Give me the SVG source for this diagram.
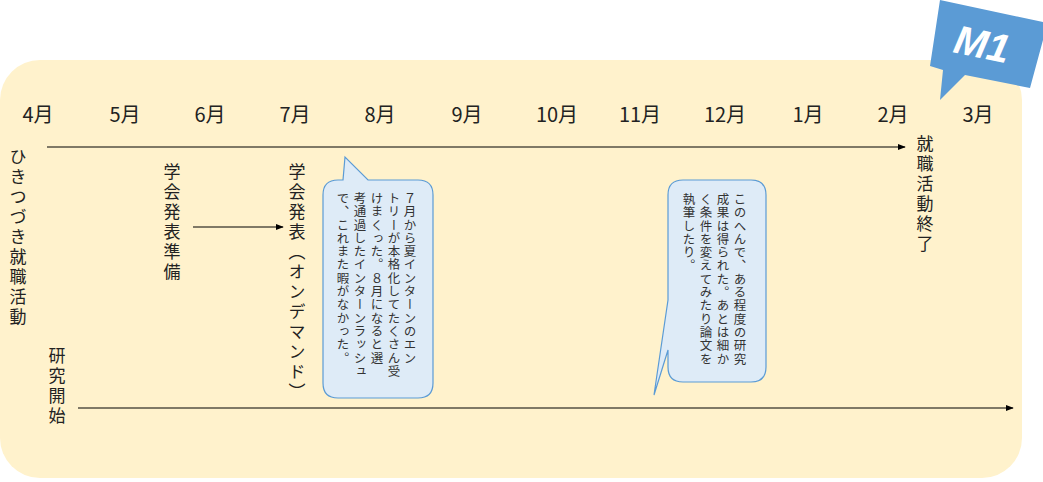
<svg xmlns="http://www.w3.org/2000/svg" width="1043" height="482" viewBox="0 0 1043 482">
<style>
.m{font-family:"Noto Sans CJK JP","Liberation Sans",sans-serif;font-size:20px;fill:#222;text-anchor:middle}
.v{font-family:"Noto Sans CJK JP",sans-serif;font-size:17px;letter-spacing:3px;fill:#222;writing-mode:vertical-rl}
.s{font-family:"Noto Sans CJK JP",sans-serif;font-size:12.5px;letter-spacing:0.8px;fill:#333;writing-mode:vertical-rl}
.b{fill:#DEEBF7;stroke:#5B9BD5;stroke-width:1.2}
.ln{stroke:#000;stroke-width:1;fill:none;marker-end:url(#a)}
</style>
<defs><marker id="a" viewBox="0 0 10 10" refX="9" refY="5" markerWidth="8" markerHeight="8" orient="auto"><path d="M0,1L10,5L0,9z" fill="#000"/></marker></defs>
<rect x="0" y="60" width="1022" height="418" rx="40" fill="#FFF2CC"/>
<g id="badge"><polygon points="940,0 1043,22 1043,40 1030,88 965,75 940,100 943,70 930,66" fill="#5B9BD5"/>
<text x="982" y="58" transform="rotate(12 982 45)" font-family="Liberation Sans,sans-serif" font-size="40" font-style="italic" font-weight="bold" fill="#fff" text-anchor="middle">M1</text></g>
<g id="months">
<text class="m" x="38" y="122">4月</text><text class="m" x="125" y="122">5月</text><text class="m" x="210" y="122">6月</text><text class="m" x="295" y="122">7月</text><text class="m" x="380" y="122">8月</text><text class="m" x="467" y="122">9月</text><text class="m" x="557" y="122">10月</text><text class="m" x="640" y="122">11月</text><text class="m" x="725" y="122">12月</text><text class="m" x="808" y="122">1月</text><text class="m" x="893" y="122">2月</text><text class="m" x="978" y="122">3月</text>
</g>
<g id="connectors">
<line class="ln" x1="47" y1="147" x2="905" y2="147"/>
<line class="ln" x1="78" y1="408" x2="1013" y2="408"/>
<line class="ln" x1="193" y1="227" x2="283" y2="227"/>
</g>
<g id="n1"><text class="v" x="18" y="148">ひきつづき就職活動</text></g>
<g id="n2"><text class="v" x="57" y="347">研究開始</text></g>
<g id="n3"><text class="v" x="172" y="163">学会発表準備</text></g>
<g id="n4"><text class="v" x="297" y="163">学会発表（オンデマンド）</text></g>
<g id="n5"><text class="v" x="925" y="135">就職活動終了</text></g>
<g id="bubble1"><path class="b" d="M343,180 L345,157 L368,180 L418,180 Q433,180 433,195 L433,383 Q433,398 418,398 L338,398 Q323,398 323,383 L323,195 Q323,180 338,180 Z"/>
<text class="s" x="410" y="192">７月から夏インターンのエン</text>
<text class="s" x="394" y="192">トリーが本格化してたくさん受</text>
<text class="s" x="377" y="192">けまくった。８月になると選</text>
<text class="s" x="360" y="192">考通過したインターンラッシュ</text>
<text class="s" x="343" y="192">で、これまた暇がなかった。</text></g>
<g id="bubble2"><path class="b" d="M683,180 L751,180 Q766,180 766,195 L766,367 Q766,382 751,382 L683,382 Q668,382 668,367 L668,350 L654,395 L668,300 L668,195 Q668,180 683,180 Z"/>
<text class="s" x="740" y="193">このへんで、ある程度の研究</text>
<text class="s" x="723" y="193">成果は得られた。あとは細か</text>
<text class="s" x="706" y="193">く条件を変えてみたり論文を</text>
<text class="s" x="689" y="193">執筆したり。</text></g>
</svg>
